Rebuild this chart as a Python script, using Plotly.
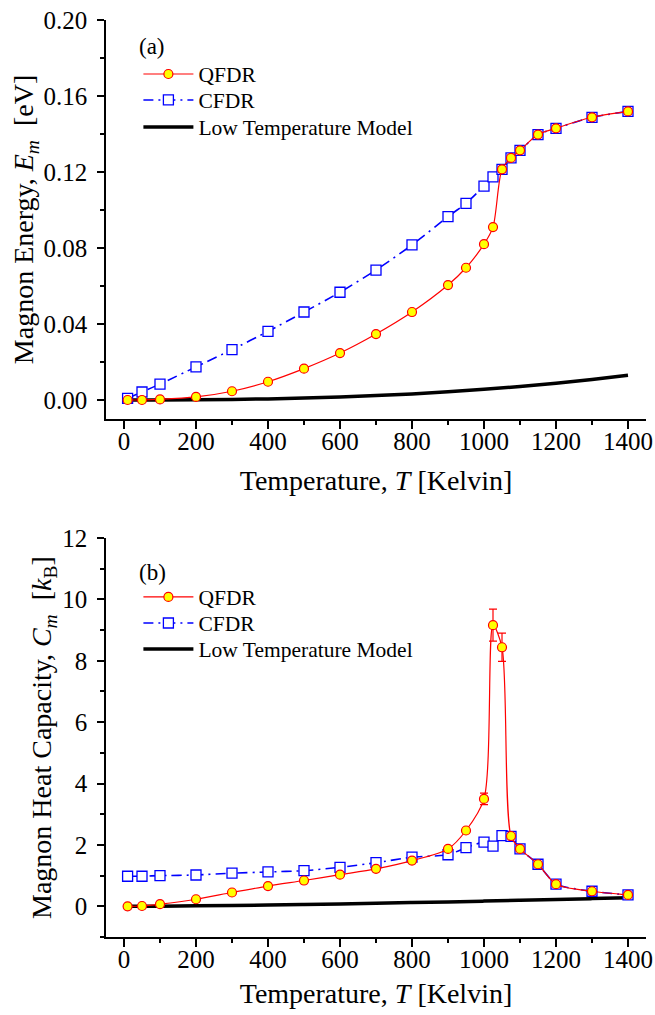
import plotly.graph_objects as go

# ---------------- data ----------------
T = [10, 50, 100, 200, 300, 400, 500, 600, 700, 800, 900, 950, 1000, 1025,
     1050, 1075, 1100, 1150, 1200, 1300, 1400]

E_qfdr = [0.0, 0.0, 0.0003, 0.0016, 0.0046, 0.0096, 0.0165, 0.0247, 0.0347,
          0.0463, 0.0605, 0.0696, 0.0820, 0.0910, 0.1214, 0.1274, 0.1314,
          0.1397, 0.1430, 0.1488, 0.1519]
E_cfdr = [0.0009, 0.0042, 0.0084, 0.0174, 0.0265, 0.0361, 0.0463, 0.0567,
          0.0684, 0.0816, 0.0965, 0.1035, 0.1126, 0.1174, 0.1214, 0.1274,
          0.1314, 0.1397, 0.1430, 0.1488, 0.1519]

C_qfdr = [0.0, 0.01, 0.07, 0.23, 0.45, 0.66, 0.84, 1.03, 1.22, 1.49, 1.87,
          2.47, 3.50, 9.16, 8.44, 2.29, 1.87, 1.37, 0.72, 0.49, 0.37]
C_qfdr_err = [0, 0, 0, 0, 0, 0, 0, 0, 0, 0, 0, 0, 0.19, 0.52, 0.46, 0, 0, 0,
              0, 0, 0]
C_cfdr = [0.98, 0.98, 1.00, 1.02, 1.08, 1.12, 1.16, 1.27, 1.42, 1.60, 1.68,
          1.91, 2.09, 1.96, 2.30, 2.28, 1.87, 1.37, 0.72, 0.49, 0.37]

T_low = [0, 100, 200, 300, 400, 500, 600, 700, 800, 900, 1000, 1100, 1200,
         1300, 1400]
E_low = [0.0, 0.00001, 0.00007, 0.00028, 0.00057, 0.00099, 0.00156, 0.0023,
         0.0032, 0.0043, 0.0056, 0.0071, 0.0088, 0.0108, 0.0130]
C_low = [0.0, 0.005, 0.015, 0.028, 0.043, 0.060, 0.079, 0.099, 0.121, 0.144,
         0.169, 0.195, 0.222, 0.251, 0.280]

x_ticks = [0, 200, 400, 600, 800, 1000, 1200, 1400]
E_ticks = [0.00, 0.04, 0.08, 0.12, 0.16, 0.20]
C_ticks = [0, 2, 4, 6, 8, 10, 12]

names = ["QFDR", "CFDR", "Low Temperature Model"]
panel_labels = ["(a)", "(b)"]

# ---------------- style ----------------
FONT = "Liberation Serif"
RED = "#ff0000"
BLUE = "#0000ff"
YELLOW = "#ffff00"

fig = go.Figure()


def add_panel(xa, ya, legs, ys_q, ys_c, ys_low, err=None):
    fig.add_trace(go.Scatter(
        x=T_low, y=ys_low, xaxis=xa, yaxis=ya, legend=legs[2], name=names[2],
        showlegend=True,
        mode="lines", line=dict(color="black", width=3.5, shape="spline")))
    fig.add_trace(go.Scatter(
        x=T, y=ys_c, xaxis=xa, yaxis=ya, legend=legs[1], name=names[1],
        showlegend=True, mode="lines+markers",
        line=dict(color=BLUE, width=1.6, dash="10px,5px,2px,5px",
                  shape="spline", smoothing=0.6),
        marker=dict(symbol="square", size=10, color="white",
                    line=dict(color=BLUE, width=1.3))))
    tr = dict(
        x=T, y=ys_q, xaxis=xa, yaxis=ya, legend=legs[0], name=names[0],
        showlegend=True, mode="lines+markers",
        line=dict(color=RED, width=1.2, shape="spline", smoothing=0.8),
        marker=dict(symbol="circle", size=9, color=YELLOW,
                    line=dict(color=RED, width=1.2)))
    if err is not None:
        tr["error_y"] = dict(type="data", array=err, visible=True,
                             color=RED, thickness=1.2, width=4)
    fig.add_trace(go.Scatter(**tr))


add_panel("x", "y", ["legend", "legend3", "legend4"], E_qfdr, E_cfdr, E_low)
add_panel("x2", "y2", ["legend2", "legend5", "legend6"], C_qfdr, C_cfdr,
          C_low, C_qfdr_err)

# ---------------- axes ----------------
top_dom = [0.5649, 1.0]
bot_dom = [0.0, 0.4351]
XR = [-50, 1450]

tickfont = dict(family=FONT, size=25, color="black")
titlefont = dict(family=FONT, size=28, color="black")


def xaxis(anchor, title, standoff):
    return dict(domain=[0, 1], range=XR, anchor=anchor, tickvals=x_ticks,
                ticks="outside", ticklen=8, tickwidth=1.5, tickcolor="black",
                minor=dict(dtick=100, tick0=0, ticks="outside", ticklen=4,
                           tickwidth=1.5, tickcolor="black"),
                showline=True, linewidth=1.5, linecolor="black",
                showgrid=False, zeroline=False, tickfont=tickfont,
                ticklabelstandoff=-9,
                title=dict(text=title, font=titlefont, standoff=standoff),
                automargin=False)


def yaxis(anchor, dom, rng, tv, fmt, mdt, title):
    return dict(domain=dom, range=rng, anchor=anchor, tickvals=tv,
                tickformat=fmt, ticks="outside", ticklen=7, tickwidth=1.5,
                tickcolor="black",
                minor=dict(dtick=mdt, tick0=0, ticks="outside", ticklen=4,
                           tickwidth=1.5, tickcolor="black"),
                showline=True, linewidth=1.5, linecolor="black",
                showgrid=False, zeroline=False, tickfont=tickfont,
                ticklabelstandoff=5,
                title=dict(text=title, font=titlefont, standoff=2),
                automargin=False)


def mirror_x(over, anchor):
    return dict(overlaying=over, side="top", anchor=anchor, range=XR,
                tickvals=x_ticks, ticks="inside", ticklen=8, tickwidth=1.5,
                tickcolor="black",
                minor=dict(dtick=100, tick0=0, ticks="inside", ticklen=4,
                           tickwidth=1.5, tickcolor="black"),
                showline=True, linewidth=1.5, linecolor="black",
                showticklabels=False, showgrid=False, zeroline=False,
                automargin=False)


def mirror_y(over, anchor, rng, tv, mdt):
    return dict(overlaying=over, side="right", anchor=anchor, range=rng,
                tickvals=tv, ticks="inside", ticklen=8, tickwidth=1.5,
                tickcolor="black",
                minor=dict(dtick=mdt, tick0=0, ticks="inside", ticklen=4,
                           tickwidth=1.5, tickcolor="black"),
                showline=True, linewidth=1.5, linecolor="black",
                showticklabels=False, showgrid=False, zeroline=False,
                automargin=False)


xtitle = "Temperature, <i>T</i> [Kelvin]"
legfont = dict(family=FONT, size=21.5, color="black")


def leg(y):
    return dict(x=0.06, y=y, xanchor="left", yanchor="middle",
                bgcolor="rgba(0,0,0,0)", font=legfont, itemwidth=50)


fig.update_layout(
    width=655, height=1015,
    margin=dict(l=105.5, r=9, t=20, b=78),
    paper_bgcolor="white", plot_bgcolor="white",
    font=dict(family=FONT, color="black"),
    showlegend=True,
    xaxis=xaxis("y", xtitle, 17),
    yaxis=yaxis("x", top_dom, [-0.01, 0.20], E_ticks, ".2f", 0.02,
                "Magnon Energy, <i>E</i><sub><i>m</i></sub>\u00a0\u00a0[eV]"),
    xaxis2=xaxis("y2", xtitle, 12),
    yaxis2=yaxis("x2", bot_dom, [-1, 12], C_ticks, "d", 1,
                 "Magnon Heat Capacity, <i>C</i><sub><i>m</i></sub>\u00a0\u00a0[<i>k</i><sub>B</sub>]"),
    xaxis3=mirror_x("x", "y"),
    yaxis3=mirror_y("y", "x", [-0.01, 0.20], E_ticks, 0.02),
    xaxis4=mirror_x("x2", "y2"),
    yaxis4=mirror_y("y2", "x2", [-1, 12], C_ticks, 1),
    legend=leg(0.9411),
    legend3=leg(0.9128),
    legend4=leg(0.8833),
    legend2=leg(0.3708),
    legend5=leg(0.3424),
    legend6=leg(0.3141),
    annotations=[
        dict(text=panel_labels[0], xref="paper", yref="paper", x=0.058,
             y=0.9706, xanchor="left", yanchor="middle", showarrow=False,
             font=dict(family=FONT, size=23, color="black")),
        dict(text=panel_labels[1], xref="paper", yref="paper", x=0.058,
             y=0.398, xanchor="left", yanchor="middle", showarrow=False,
             font=dict(family=FONT, size=23, color="black")),
    ],
)

fig.write_html(
    "out.html",
    config={"displayModeBar": False},
    post_script="document.body.style.margin='0';"
                "document.body.style.overflow='hidden';")
